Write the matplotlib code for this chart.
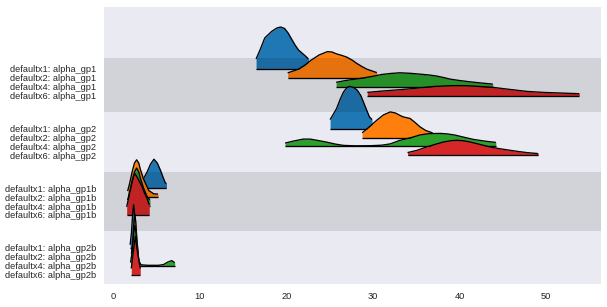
import matplotlib
matplotlib.use("Agg")
import matplotlib.pyplot as plt

plt.rcParams['font.family'] = ['Liberation Sans', 'DejaVu Sans']

models = ["defaultx1", "defaultx2", "defaultx4", "defaultx6"]
variables = ["alpha_gp1", "alpha_gp2", "alpha_gp1b", "alpha_gp2b"]
colors = ["#1f77b4", "#ff7f0e", "#2ca02c", "#d62728"]
xticks = [0, 10, 20, 30, 40, 50]

# ridge outlines: x values and ridge heights
gp1_x1_x = [16.5, 17.0, 17.5, 18.3, 18.9, 19.35, 19.8, 20.2, 20.6, 21.0, 21.4, 21.8, 22.2, 22.55]
gp1_x1_h = [10, 20, 31, 37.6, 41, 42, 40.5, 36, 30, 24, 19, 16, 13, 10]
gp1_x2_x = [20.15, 21.4, 22.1, 22.9, 23.8, 24.75, 25.3, 25.8, 26.4, 27.0, 27.6, 28.1, 28.7, 29.3, 30.45]
gp1_x2_h = [5, 8.7, 12.5, 18, 23, 26.3, 25.8, 24, 22.5, 20.7, 17.8, 14.7, 11.5, 8.7, 5.3]
gp1_x4_x = [25.75, 27.0, 28.5, 30.0, 31.0, 32.0, 33.1, 34.3, 35.5, 36.5, 37.4, 38.2, 38.9, 40.0, 41.2, 42.5, 43.85]
gp1_x4_h = [4.5, 6.5, 8.3, 10.5, 12.3, 13.3, 14, 13.5, 12.6, 11.8, 10.7, 9.2, 7.7, 6.3, 5, 3.8, 2.7]
gp1_x6_x = [29.35, 31.0, 33.1, 35.0, 37.0, 38.9, 40.0, 40.85, 42.4, 43.9, 45.8, 47.8, 49.7, 51.6, 53.85]
gp1_x6_h = [3.3, 4.6, 6, 7.5, 9.2, 10, 10.1, 10, 9.2, 8.3, 6.3, 4.3, 3.3, 2.7, 2]

gp2_x1_x = [25.05, 25.4, 25.8, 26.2, 26.6, 27.0, 27.3, 27.8, 28.2, 28.6, 28.9, 29.3, 29.6, 29.9]
gp2_x1_h = [9, 14, 20, 29, 36.6, 41, 42.3, 41, 38.3, 33, 26.6, 18, 11.6, 9]
gp2_x2_x = [28.75, 29.5, 30.45, 31.2, 32.0, 32.6, 33.15, 33.5, 34.3, 34.8, 35.45, 36.1, 36.9]
gp2_x2_h = [4.7, 10, 17.3, 22.5, 25.6, 24.5, 22, 20.6, 19, 15.5, 10.6, 7, 4.6]
gp2_x4_x = [19.85, 20.8, 21.95, 22.75, 23.6, 24.65, 25.6, 26.6, 28.0, 29.7, 31.0, 32.0, 33.1,
            34.3, 35.45, 36.5, 37.8, 38.6, 39.5, 40.5, 41.6, 43.0, 44.2]
gp2_x4_h = [3.3, 5.3, 7.3, 7.3, 6, 4.3, 2.4, 1, 0.6, 0.7, 1.2, 2.5, 6,
            8.5, 11.5, 12.8, 13, 12.5, 11.3, 9.2, 7, 5.2, 4]
gp2_x6_x = [34.0, 35.1, 36.2, 37.2, 38.15, 39.0, 39.7, 40.5, 41.25, 42.4, 43.55, 44.7, 45.85, 46.8, 47.8, 49.1]
gp2_x6_h = [2.7, 5, 8.3, 11, 13.3, 14.6, 15, 14.5, 13.3, 10.8, 8.3, 6.5, 5, 3.8, 2.7, 1.7]

gp1b_x1_x = [3.1, 3.5, 3.9, 4.3, 4.7, 5.1, 5.45, 5.75, 6.0, 6.15]
gp1b_x1_h = [4, 9.6, 16, 24, 29, 25, 18, 11, 5.5, 4.5]
gp1b_x2_x = [1.66, 1.9, 2.2, 2.45, 2.7, 2.95, 3.12, 3.5, 4.1, 4.67, 5.17]
gp1b_x2_h = [6, 14, 26, 34, 37.3, 34, 28, 18, 6.6, 3.3, 3]
gp1b_x4_x = [1.66, 1.9, 2.2, 2.45, 2.7, 2.95, 3.12, 3.5, 3.9, 4.24]
gp1b_x4_h = [6, 14, 26, 34, 38, 34, 28, 18, 9.6, 6]
gp1b_x6_x = [1.55, 1.8, 2.1, 2.35, 2.54, 2.8, 3.05, 3.32, 3.6, 3.9, 4.16]
gp1b_x6_h = [8, 18, 30, 38.5, 41, 37, 33, 28.4, 22, 16.7, 10]

gp2b_x1_x = [1.95, 2.1, 2.25, 2.35, 2.45, 2.6, 2.75]
gp2b_x1_h = [3, 15, 35, 43, 35, 15, 3]
gp2b_x2_x = [2.1, 2.25, 2.4, 2.5, 2.6, 2.75, 2.9]
gp2b_x2_h = [3, 15, 35, 42, 35, 15, 3]
gp2b_x4_x = [2.0, 2.2, 2.4, 2.5, 2.6, 2.8, 3.0, 3.2, 4.0, 5.2, 5.8, 6.3, 6.75, 7.1]
gp2b_x4_h = [3, 15, 35, 40, 35, 15, 4, 0.8, 0.3, 0.3, 1, 3.5, 5, 3]
gp2b_x6_x = [2.08, 2.3, 2.55, 2.8, 3.12]
gp2b_x6_h = [6, 22, 38, 22, 6]

ridges = [
    [(gp1_x1_x, gp1_x1_h), (gp1_x2_x, gp1_x2_h), (gp1_x4_x, gp1_x4_h), (gp1_x6_x, gp1_x6_h)],
    [(gp2_x1_x, gp2_x1_h), (gp2_x2_x, gp2_x2_h), (gp2_x4_x, gp2_x4_h), (gp2_x6_x, gp2_x6_h)],
    [(gp1b_x1_x, gp1b_x1_h), (gp1b_x2_x, gp1b_x2_h), (gp1b_x4_x, gp1b_x4_h), (gp1b_x6_x, gp1b_x6_h)],
    [(gp2b_x1_x, gp2b_x1_h), (gp2b_x2_x, gp2b_x2_h), (gp2b_x4_x, gp2b_x4_h), (gp2b_x6_x, gp2b_x6_h)],
]

ROW = 8.9
GROUP = 59.6

fig = plt.figure(figsize=(6.07, 3.07), dpi=100)
ax = fig.add_axes([104 / 607, 1 - 284 / 307, 497 / 607, 277 / 307])
ax.set_facecolor("#EAEAF2")
for s in ax.spines.values():
    s.set_visible(False)

ypos, ylabels = [], []
z = 2
for g, var in enumerate(variables):
    for m, model in enumerate(models):
        base = -(g * GROUP + m * ROW)
        xs, hs = ridges[g][m]
        top = [base + h for h in hs]
        ax.fill_between(xs, base, top, color=colors[m], lw=0, zorder=z)
        ax.plot(xs, top, color="k", lw=0.95, zorder=z + 0.1, solid_capstyle="butt")
        ax.plot([xs[0], xs[-1]], [base, base], color="k", lw=0.95, zorder=z + 0.1,
                solid_capstyle="butt")
        z += 1
        ypos.append(base)
        ylabels.append(f"{model}: {var}")

# shaded bands for alternating variables
half_gap = (3 * ROW + GROUP) / 2
for g in range(0, len(variables), 2):
    upper = 11 if g == 0 else -((g - 1) * GROUP + half_gap)
    lower = -(g * GROUP + half_gap)
    ax.axhspan(lower, upper, color="k", alpha=0.1, lw=0, zorder=100)

ax.set_xlim(-1.07, 56.35)
ax.set_ylim(-215, 62)
ax.set_xticks(xticks)
ax.set_xticklabels([str(t) for t in xticks])
ax.set_yticks(ypos)
ax.set_yticklabels(ylabels)
ax.tick_params(axis="both", length=0, labelsize=6.7, colors="#262626")
ax.tick_params(axis="y", pad=5.8)
ax.tick_params(axis="x", pad=5.5)
ax.grid(False)

fig.savefig("out.png", dpi=100)
